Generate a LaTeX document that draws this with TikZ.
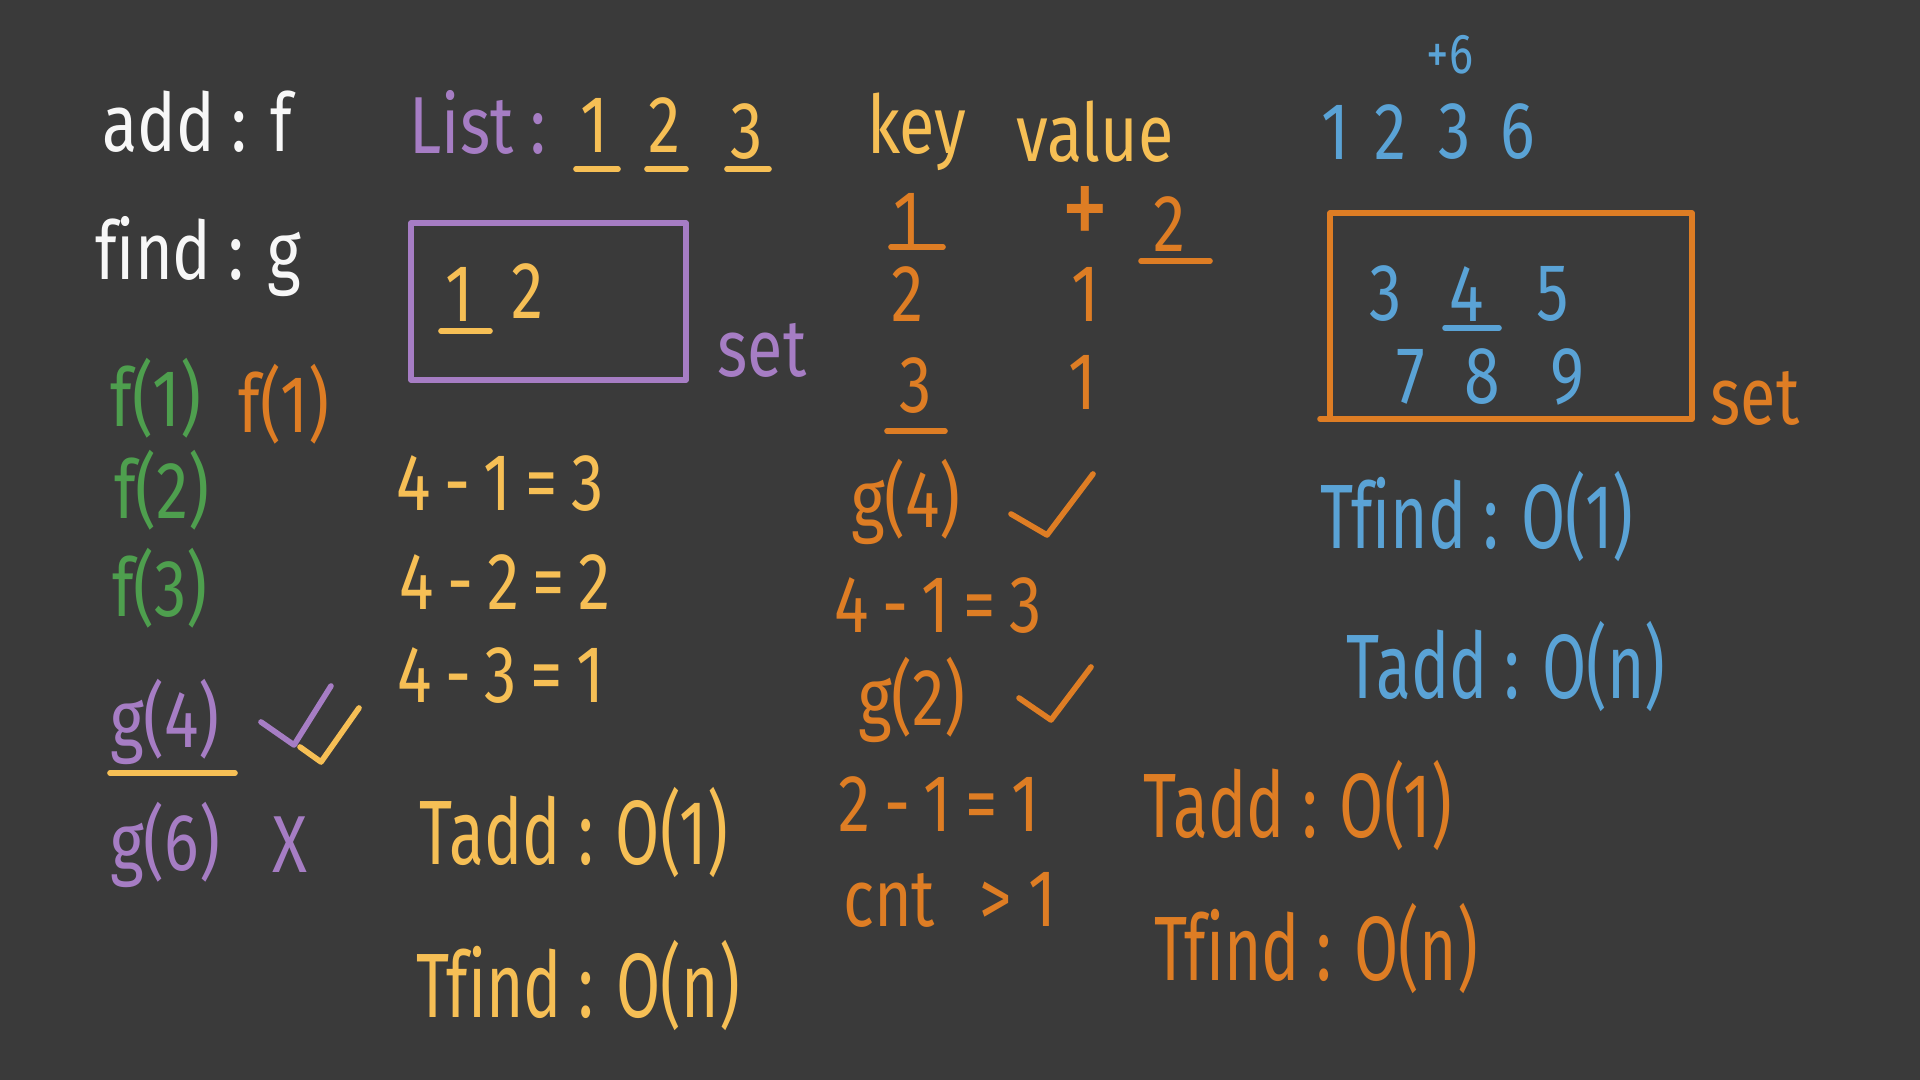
\documentclass[tikz,border=0pt]{standalone}
\usepackage{fontspec}
\setmainfont{Fira Sans}[FakeStretch=0.8, Ligatures=NoCommon]
\newfontfamily\narrowhand{Fira Sans}[FakeStretch=0.7, Ligatures=NoCommon]
\usepackage{tikz}
\usetikzlibrary{positioning}

\definecolor{board}{HTML}{3A3A3A}
\definecolor{chalkw}{HTML}{F7F7F7}
\definecolor{chalkp}{HTML}{A67DC4}
\definecolor{chalky}{HTML}{F6BF55}
\definecolor{chalko}{HTML}{DE7D24}
\definecolor{chalkg}{HTML}{4E9F4E}
\definecolor{chalkb}{HTML}{5AA3D6}

\tikzset{
  hand/.style={inner sep=0pt, font=\fontsize{23}{27}\selectfont},
  bighand/.style={inner sep=0pt, font=\narrowhand\fontsize{26}{30}\selectfont},
  smallhand/.style={inner sep=0pt, font=\fontsize{16}{19}\selectfont},
  pen/.style={line width=1.6pt, line cap=round, line join=round},
}

\begin{document}
\begin{tikzpicture}
			\begingroup
			\fill[board] (0,0) rectangle (19.2,10.8);
			
			% left column: white / green / purple
			\node[hand, chalkw] (add) at (1.97, 9.58) {add : f};
			\node[hand, chalkw] (find) at (1.98, 8.23) {find : g};
			\node[hand, chalkg] (fa) at (1.56, 6.82) {f(1)};
			\node[hand, chalko] (fb) at (2.84, 6.76) {f(1)};
			\node[hand, chalkg] (fc) at (1.62, 5.90) {f(2)};
			\node[hand, chalkg] (fd) at (1.60, 4.92) {f(3)};
			\node[hand, chalkp] (ga) at (1.65, 3.58) {g(4)};
			\node[hand, chalkp] (gb) at (1.65, 2.35) {g(6)};
			\node[hand, chalkp] (no) at (2.90, 2.35) {X};
			\draw[pen, chalky] (1.10, 3.07) -- (2.35, 3.07);
			\draw[pen, chalkp] (2.61, 3.58) -- (2.94, 3.35) -- (3.31, 3.94);
			\draw[pen, chalky] (3.00, 3.33) -- (3.21, 3.18) -- (3.59, 3.72);
			
			% list and set
			\node[hand, chalkp] (list) at (4.78, 9.58) {List :};
			\node[hand, chalky] (la) at (5.94, 9.55) {1};
			\node[hand, chalky] (lb) at (6.64, 9.55) {2};
			\node[hand, chalky] (lc) at (7.47, 9.48) {3};
			\draw[pen, chalky] (5.76, 9.11) -- (6.18, 9.11);
			\draw[pen, chalky] (6.47, 9.11) -- (6.86, 9.11);
			\draw[pen, chalky] (7.27, 9.11) -- (7.69, 9.11);
			
			\draw[pen, chalkp] (4.11, 8.57) rectangle (6.86, 7.00);
			\node[hand, chalky] (sa) at (4.59, 7.86) {1};
			\node[hand, chalky] (sb) at (5.27, 7.89) {2};
			\draw[pen, chalky] (4.41, 7.49) -- (4.90, 7.49);
			\node[hand, chalkp] (seta) at (7.62, 7.30) {set};
			
			\node[hand, chalky] (ea) at (5.00, 5.96) {4\,-\,1\,=\,3};
			\node[hand, chalky] (eb) at (5.05, 4.98) {4\,-\,2\,=\,2};
			\node[hand, chalky] (ec) at (5.01, 4.04) {4\,-\,3\,=\,1};
			\node[bighand, chalky] (tla) at (5.74, 2.47) {Tadd : O(1)};
			\node[bighand, chalky] (tlf) at (5.78, 0.94) {Tfind : O(n)};
			
			% key / value table
			\node[hand, chalky] (key) at (9.17, 9.48) {key};
			\node[hand, chalky] (val) at (10.95, 9.48) {value};
			\node[hand, chalko] (ka) at (9.07, 8.60) {1};
			\node[hand, chalko] (kb) at (9.07, 7.86) {2};
			\node[hand, chalko] (kc) at (9.16, 6.94) {3};
			\draw[pen, chalko] (8.91, 8.33) -- (9.43, 8.33);
			\draw[pen, chalko] (8.87, 6.49) -- (9.45, 6.49);
			\node[inner sep=0pt, font=\fontsize{34}{38}\selectfont, chalko] (plus) at (10.85, 8.62) {+};
			\node[hand, chalko] (va) at (11.69, 8.56) {2};
			\draw[pen, chalko] (11.41, 8.19) -- (12.10, 8.19);
			\node[hand, chalko] (vb) at (10.85, 7.86) {1};
			\node[hand, chalko] (vc) at (10.82, 6.98) {1};
			
			\node[hand, chalko] (gc) at (9.06, 5.78) {g(4)};
			\draw[pen, chalko] (10.11, 5.66) -- (10.47, 5.45) -- (10.93, 6.06);
			\node[hand, chalko] (ed) at (9.38, 4.74) {4\,-\,1\,=\,3};
			\node[hand, chalko] (gd) at (9.12, 3.80) {g(2)};
			\draw[pen, chalko] (10.19, 3.82) -- (10.51, 3.60) -- (10.91, 4.13);
			\node[hand, chalko] (ee) at (9.39, 2.76) {2\,-\,1\,=\,1};
			\node[hand, chalko] (cnt) at (9.50, 1.80) {cnt \,\,> 1};
			\node[bighand, chalko] (tma) at (12.98, 2.74) {Tadd : O(1)};
			\node[bighand, chalko] (tmf) at (13.16, 1.31) {Tfind : O(n)};
			
			% bucket set
			\node[smallhand, chalkb] (six) at (14.50, 10.25) {+6};
			\node[hand, chalkb] (ba) at (13.35, 9.48) {1};
			\node[hand, chalkb] (bb) at (13.90, 9.48) {2};
			\node[hand, chalkb] (bc) at (14.55, 9.48) {3};
			\node[hand, chalkb] (bd) at (15.18, 9.48) {6};
			\draw[pen, chalko] (13.20, 6.61) -- (16.92, 6.61) -- (16.92, 8.67) -- (13.30, 8.67) -- (13.30, 6.61);
			\node[hand, chalkb] (c3) at (13.86, 7.86) {3};
			\node[hand, chalkb] (c4) at (14.67, 7.86) {4};
			\node[hand, chalkb] (c5) at (15.53, 7.86) {5};
			\draw[pen, chalkb] (14.45, 7.52) -- (14.99, 7.52);
			\node[hand, chalkb] (c7) at (14.11, 7.03) {7};
			\node[hand, chalkb] (c8) at (14.82, 7.03) {8};
			\node[hand, chalkb] (c9) at (15.67, 7.03) {9};
			\node[hand, chalko] (setb) at (17.55, 6.82) {set};
			\node[bighand, chalkb] (trf) at (14.77, 5.63) {Tfind : O(1)};
			\node[bighand, chalkb] (tra) at (15.06, 4.13) {Tadd : O(n)};
			\endgroup
\end{tikzpicture}
\end{document}
